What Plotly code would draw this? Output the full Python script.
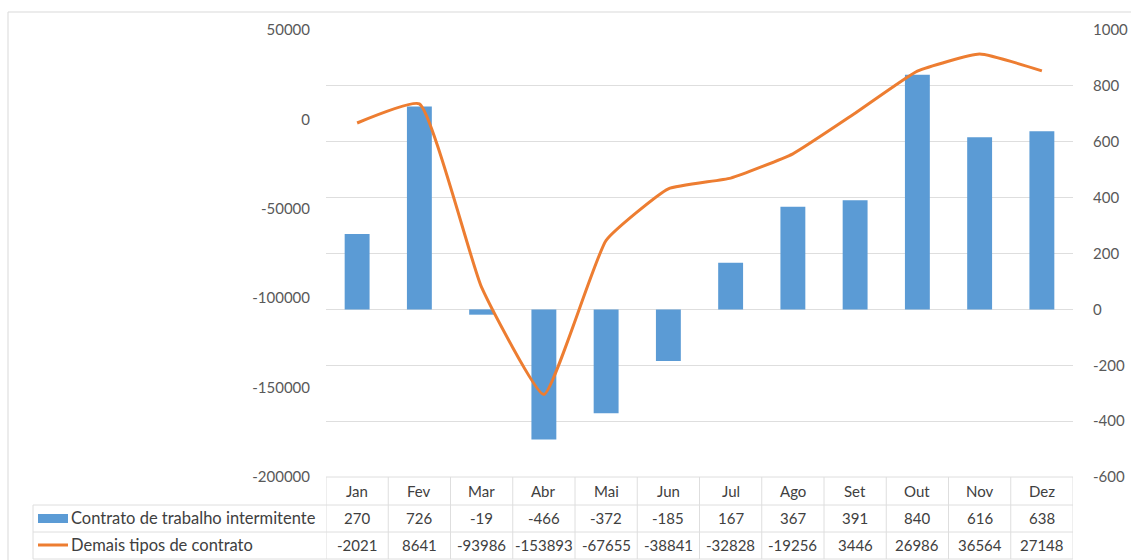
import plotly.graph_objects as go

# Dados mensais
meses = ["Jan", "Fev", "Mar", "Abr", "Mai", "Jun", "Jul", "Ago", "Set", "Out", "Nov", "Dez"]
intermitente = [270, 726, -19, -466, -372, -185, 167, 367, 391, 840, 616, 638]
demais = [-2021, 8641, -93986, -153893, -67655, -38841, -32828, -19256, 3446, 26986, 36564, 27148]
nome_intermitente = "Contrato de trabalho intermitente"
nome_demais = "Demais tipos de contrato"
ticks_direita = [-600, -400, -200, 0, 200, 400, 600, 800, 1000]
ticks_esquerda = [-200000, -150000, -100000, -50000, 0, 50000]

AZUL = "#5B9BD5"
LARANJA = "#ED7D31"
GRADE = "#DEDEDE"
TEXTO_EIXO = "#595959"
TEXTO_TABELA = "#404040"
FONTE = "Lato"

# Geometria da figura (pixels)
W, H = 1131, 560
ML, MR, MT, MB = 326, 58, 30, 83
PW, PH = W - ML - MR, H - MT - MB


def fx(px):
    return (px - ML) / PW


def fy(py):
    return (H - MB - py) / PH


fig = go.Figure()

# Barras no eixo da direita, linha suavizada no eixo da esquerda
fig.add_trace(go.Bar(
    x=meses, y=intermitente, name=nome_intermitente,
    marker=dict(color=AZUL, line=dict(width=0)), yaxis="y",
))
fig.add_trace(go.Scatter(
    x=meses, y=demais, name=nome_demais, mode="lines",
    line=dict(color=LARANJA, width=3, shape="spline", smoothing=0.4),
    yaxis="y2",
))

shapes = []
annotations = []

# Moldura da área do gráfico
shapes.append(dict(type="rect", xref="paper", yref="paper",
                   x0=fx(8), x1=fx(W + 20), y0=fy(H + 20), y1=fy(12),
                   line=dict(color="#D9D9D9", width=1), layer="below"))

# Tabela de dados
linha_tab = dict(color=GRADE, width=1)
y_cab_top, y_l1, y_l2, y_base = 477, 505, 532, 559
shapes.append(dict(type="line", xref="paper", yref="paper",
                   x0=0, x1=1, y0=fy(y_cab_top), y1=fy(y_cab_top), line=linha_tab))
for yy in (y_l1, y_l2, y_base):
    shapes.append(dict(type="line", xref="paper", yref="paper",
                       x0=fx(33), x1=1, y0=fy(yy), y1=fy(yy), line=linha_tab))
shapes.append(dict(type="line", xref="paper", yref="paper",
                   x0=fx(33), x1=fx(33), y0=fy(y_l1), y1=fy(y_base), line=linha_tab))
for i in range(len(meses) + 1):
    shapes.append(dict(type="line", xref="x", yref="paper",
                       x0=i - 0.5, x1=i - 0.5, y0=fy(y_cab_top), y1=fy(y_base),
                       line=linha_tab))

fonte_tab = dict(family=FONTE, size=15, color=TEXTO_TABELA)
fonte_nomes = dict(family=FONTE, size=16.5, color=TEXTO_TABELA)
for i, m in enumerate(meses):
    annotations.append(dict(x=i, y=fy(491), xref="x", yref="paper", text=m,
                            showarrow=False, font=fonte_tab, xanchor="center", yanchor="middle"))
    annotations.append(dict(x=i, y=fy(518), xref="x", yref="paper", text=str(intermitente[i]),
                            showarrow=False, font=fonte_tab, xanchor="center", yanchor="middle"))
    annotations.append(dict(x=i, y=fy(545), xref="x", yref="paper", text=str(demais[i]),
                            showarrow=False, font=fonte_tab, xanchor="center", yanchor="middle"))

# Legendas das séries na tabela
annotations.append(dict(x=fx(69), y=fy(518), xref="paper", yref="paper", text=nome_intermitente,
                        showarrow=False, font=fonte_nomes, xanchor="left", yanchor="middle"))
annotations.append(dict(x=fx(69), y=fy(545), xref="paper", yref="paper", text=nome_demais,
                        showarrow=False, font=fonte_nomes, xanchor="left", yanchor="middle"))
shapes.append(dict(type="rect", xref="paper", yref="paper",
                   x0=fx(38), x1=fx(68), y0=fy(523), y1=fy(514),
                   fillcolor=AZUL, line=dict(width=0)))
shapes.append(dict(type="line", xref="paper", yref="paper",
                   x0=fx(38), x1=fx(68), y0=fy(545), y1=fy(545),
                   line=dict(color=LARANJA, width=3)))

fig.update_layout(
    width=W, height=H,
    margin=dict(l=ML, r=MR, t=MT, b=MB, pad=0, autoexpand=False),
    paper_bgcolor="white", plot_bgcolor="white",
    showlegend=False,
    bargap=0.6,
    font=dict(family=FONTE, size=15, color=TEXTO_EIXO),
    xaxis=dict(type="category", range=[-0.5, len(meses) - 0.5],
               showticklabels=False, showgrid=False, zeroline=False,
               showline=False, ticks="", automargin=False),
    yaxis=dict(side="right", range=[-600, 1000], tickvals=ticks_direita,
               ticktext=[str(v) for v in ticks_direita],
               showgrid=True, gridcolor=GRADE, gridwidth=1, zeroline=False,
               showline=False, ticks="", ticklabelstandoff=19, automargin=False,
               tickfont=dict(family=FONTE, size=15, color=TEXTO_EIXO)),
    yaxis2=dict(side="left", overlaying="y", range=[-200000, 50000],
                tickvals=ticks_esquerda, ticktext=[str(v) for v in ticks_esquerda],
                showgrid=False, zeroline=False, automargin=False,
                showline=False, ticks="", ticklabelstandoff=15,
                tickfont=dict(family=FONTE, size=15, color=TEXTO_EIXO)),
    shapes=shapes,
    annotations=annotations,
)

fig.write_html("out.html")
